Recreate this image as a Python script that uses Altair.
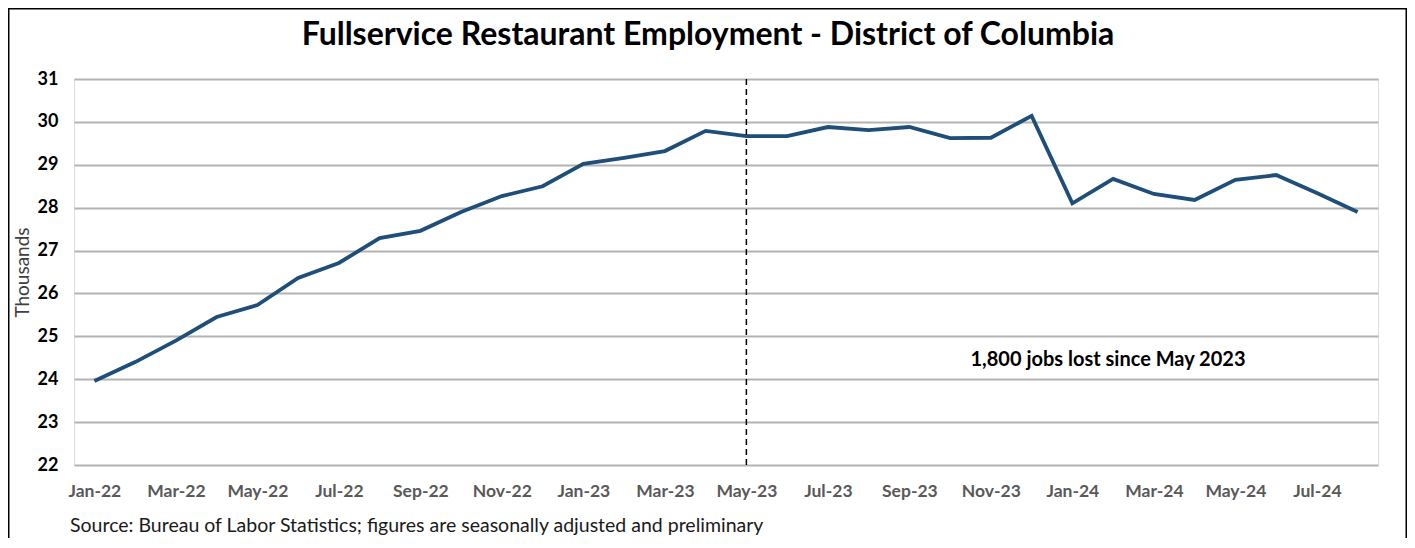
import altair as alt
import pandas as pd

months = ["Jan-22", "Feb-22", "Mar-22", "Apr-22", "May-22", "Jun-22", "Jul-22", "Aug-22",
          "Sep-22", "Oct-22", "Nov-22", "Dec-22", "Jan-23", "Feb-23", "Mar-23", "Apr-23",
          "May-23", "Jun-23", "Jul-23", "Aug-23", "Sep-23", "Oct-23", "Nov-23", "Dec-23",
          "Jan-24", "Feb-24", "Mar-24", "Apr-24", "May-24", "Jun-24", "Jul-24", "Aug-24"]
employment = [23.96, 24.40, 24.90, 25.45, 25.73, 26.36, 26.71, 27.29,
              27.46, 27.90, 28.27, 28.50, 29.02, 29.16, 29.32, 29.79,
              29.67, 29.67, 29.88, 29.81, 29.88, 29.62, 29.63, 30.14,
              28.10, 28.67, 28.32, 28.18, 28.65, 28.76, 28.34, 27.90]
tick_labels = months[::2]
y_ticks = [22, 23, 24, 25, 26, 27, 28, 29, 30, 31]
marker_month = ["May-23"]
title_text = ["Fullservice Restaurant Employment - District of Columbia"]
annotation = ["1,800 jobs lost since May 2023"]
source_note = ["Source: Bureau of Labor Statistics; figures are seasonally adjusted and preliminary"]

FONT = "Lato"
W, H = 1304, 386
OX, OY = 74, 79  # page position of the plot's top-left corner

df = pd.DataFrame({"month": months, "value": employment})
xscale = alt.Scale(type="point", padding=0.5, domain=months)

x_enc = alt.X("month:N", sort=months, scale=xscale,
              axis=alt.Axis(values=tick_labels, labelAngle=0, ticks=False, domain=False,
                            labelColor="#595959", labelFontWeight="bold", labelFontSize=17.5,
                            labelFont=FONT, labelPadding=17, grid=False, title=None))
y_enc = alt.Y("value:Q",
              scale=alt.Scale(domain=[22, 31], nice=False, zero=False),
              axis=alt.Axis(values=y_ticks, ticks=False, domain=False, grid=True,
                            gridColor="#b3b3b3", gridWidth=1.8,
                            labelColor="#000000", labelFontWeight="bold", labelFontSize=18,
                            labelFont=FONT, labelPadding=16,
                            title="Thousands", titleFont=FONT, titleFontSize=19,
                            titleFontWeight="normal", titleColor="#404040", titlePadding=5))

line = alt.Chart(df).mark_line(color="#1f4e79", strokeWidth=3.8, strokeJoin="miter").encode(
    x=x_enc, y=y_enc)

rule = alt.Chart(pd.DataFrame({"month": marker_month})).mark_rule(
    color="#000000", strokeDash=[6, 4], strokeWidth=1.5).encode(
    x=alt.X("month:N", sort=months, scale=xscale),
    y=alt.value(0), y2=alt.value(H + 3))

title = alt.Chart(pd.DataFrame({"t": title_text})).mark_text(
    font=FONT, fontSize=32, fontWeight="bold", color="#000000", align="center",
    baseline="middle").encode(text="t:N", x=alt.value(708 - OX), y=alt.value(35 - OY))

note = alt.Chart(pd.DataFrame({"t": annotation})).mark_text(
    font=FONT, fontSize=20, fontWeight="bold", color="#000000", align="center",
    baseline="middle").encode(text="t:N", x=alt.value(1108 - OX), y=alt.value(360 - OY))

src = alt.Chart(pd.DataFrame({"t": source_note})).mark_text(
    font=FONT, fontSize=19.5, color="#1a1a1a", align="left", baseline="middle").encode(
    text="t:N", x=alt.value(70 - OX), y=alt.value(526 - OY))

border = alt.Chart(pd.DataFrame({"t": [0]})).mark_rect(
    fill="transparent", stroke="#000000", strokeWidth=1.5, clip=False).encode(
    x=alt.value(8.75 - OX), x2=alt.value(1406.25 - OX),
    y=alt.value(8.75 - OY), y2=alt.value(620 - OY))

chart = alt.layer(border, line, rule, title, note, src).properties(
    width=W, height=H,
    autosize=alt.AutoSizeParams(type="none"),
    padding={"left": OX - 8, "top": OY - 8, "right": 1407 - OX - W, "bottom": 73},
).configure_view(stroke=None).configure(background="white")

chart.save("out.html", embed_options={"renderer": "svg", "actions": False})
